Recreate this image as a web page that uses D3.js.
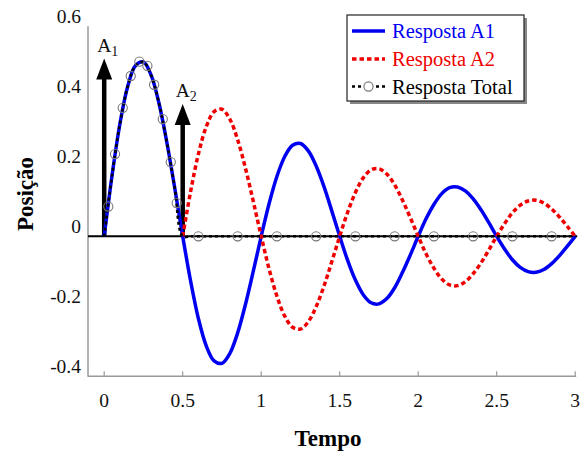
<!DOCTYPE html>
<html>
<head>
<meta charset="utf-8">
<script src="https://cdn.jsdelivr.net/npm/d3@7"></script>
<style>
  html, body { margin: 0; padding: 0; background: #fff; }
  svg { display: block; }
  text { font-family: "Liberation Serif", "Times New Roman", serif; }
</style>
</head>
<body>
<svg id="chart" width="581" height="453"></svg>
<script>
// Time grid (s)
const time = [0,0.05,0.1,0.15,0.2,0.25,0.3,0.35,0.4,0.45,0.5,0.55,0.6,0.65,0.7,0.75,0.8,0.85,0.9,0.95,
  1,1.05,1.1,1.15,1.2,1.25,1.3,1.35,1.4,1.45,1.5,1.55,1.6,1.65,1.7,1.75,1.8,1.85,1.9,1.95,
  2,2.05,2.1,2.15,2.2,2.25,2.3,2.35,2.4,2.45,2.5,2.55,2.6,2.65,2.7,2.75,2.8,2.85,2.9,2.95,3];

// Response to impulse A1
const respA1 = [0,0.174,0.321,0.429,0.488,0.498,0.459,0.378,0.266,0.136,0,-0.127,-0.235,-0.313,-0.356,-0.363,-0.335,-0.276,-0.194,-0.099,
  0,0.093,0.171,0.228,0.260,0.265,0.244,0.201,0.142,0.072,0,-0.068,-0.125,-0.167,-0.190,-0.193,-0.178,-0.147,-0.103,-0.053,
  0,0.050,0.091,0.122,0.139,0.141,0.130,0.107,0.076,0.039,0,-0.036,-0.067,-0.089,-0.101,-0.103,-0.095,-0.078,-0.055,-0.028,0];

// Response to impulse A2 (starts at t = 0.5)
const respA2 = [null,null,null,null,null,null,null,null,null,null,0,0.127,0.235,0.313,0.356,0.363,0.335,0.276,0.194,0.099,
  0,-0.093,-0.171,-0.228,-0.260,-0.265,-0.244,-0.201,-0.142,-0.072,0,0.068,0.125,0.167,0.190,0.193,0.178,0.147,0.103,0.053,
  0,-0.050,-0.091,-0.122,-0.139,-0.141,-0.130,-0.107,-0.076,-0.039,0,0.036,0.067,0.089,0.101,0.103,0.095,0.078,0.055,0.028,0];

// Total response (sum of both)
const respTotal = [0,0.174,0.321,0.429,0.488,0.498,0.459,0.378,0.266,0.136,0,0,0,0,0,0,0,0,0,0,
  0,0,0,0,0,0,0,0,0,0,0,0,0,0,0,0,0,0,0,0,
  0,0,0,0,0,0,0,0,0,0,0,0,0,0,0,0,0,0,0,0,0];

// Marker samples along the total response
const markerTime = [0.026,0.069,0.118,0.169,0.224,0.275,0.318,0.373,0.424,0.462,0.6,0.85,1.1,1.35,1.6,1.85,2.1,2.35,2.6,2.85];
const markerValue = [0.085,0.235,0.367,0.458,0.499,0.487,0.433,0.335,0.212,0.095,0,0,0,0,0,0,0,0,0,0];

// Impulses
const impulseName = ["1", "2"];
const impulseTime = [0, 0.5];
const impulseAmp = [0.508, 0.378];

// Axis ticks
const xTicks = [0, 0.5, 1, 1.5, 2, 2.5, 3];
const xTickLabels = ["0", "0.5", "1", "1.5", "2", "2.5", "3"];
const yTicks = [0.6, 0.4, 0.2, 0, -0.2, -0.4];
const yTickLabels = ["0.6", "0.4", "0.2", "0", "-0.2", "-0.4"];

const legendLabels = ["Resposta A1", "Resposta A2", "Resposta Total"];

const BLUE = "#0000f0", RED = "#ee0000";

const svg = d3.select("#chart");
const x = d3.scaleLinear().domain([0, 3]).range([104.2, 575.2]);
const y = d3.scaleLinear().domain([-0.4, 0.6]).range([376.3, 26.3]);
const axisLeftX = 88;

// Axes (left and bottom, grey)
svg.append("line").attr("x1", axisLeftX).attr("x2", axisLeftX)
  .attr("y1", y(0.6)).attr("y2", y(-0.4) + 0.5)
  .attr("stroke", "#999").attr("stroke-width", 1.5);
svg.append("line").attr("x1", axisLeftX).attr("x2", x(3) + 1)
  .attr("y1", y(-0.4)).attr("y2", y(-0.4))
  .attr("stroke", "#999").attr("stroke-width", 1.5);
svg.selectAll(".xtick").data(xTicks).join("line")
  .attr("x1", d => x(d)).attr("x2", d => x(d))
  .attr("y1", y(-0.4)).attr("y2", y(-0.4) - 5)
  .attr("stroke", "#999").attr("stroke-width", 1.2);
svg.selectAll(".xlabel").data(xTicks).join("text")
  .attr("x", d => x(d)).attr("y", 400)
  .attr("text-anchor", "middle").attr("dominant-baseline", "central")
  .attr("font-size", 19.5).attr("fill", "#111")
  .text((d, i) => xTickLabels[i]);
svg.selectAll(".ylabel").data(yTicks).join("text")
  .attr("x", 81).attr("y", d => y(d) - 10)
  .attr("text-anchor", "end").attr("dominant-baseline", "central")
  .attr("font-size", 19.5).attr("fill", "#111")
  .text((d, i) => yTickLabels[i]);

// Axis titles
svg.append("text").attr("x", 328).attr("y", 438)
  .attr("text-anchor", "middle").attr("dominant-baseline", "central")
  .attr("font-size", 23).attr("font-weight", "bold").text("Tempo");
svg.append("text").attr("transform", "translate(25,194) rotate(-90)")
  .attr("text-anchor", "middle").attr("dominant-baseline", "central")
  .attr("font-size", 23).attr("font-weight", "bold").text("Posição");

// Zero reference line
svg.append("line").attr("x1", axisLeftX).attr("x2", x(3) + 2)
  .attr("y1", y(0)).attr("y2", y(0))
  .attr("stroke", "#000").attr("stroke-width", 2);

// Impulse arrows
impulseTime.forEach((t, i) => {
  const tipY = y(impulseAmp[i]);
  svg.append("line").attr("x1", x(t)).attr("x2", x(t))
    .attr("y1", y(0)).attr("y2", tipY + 18)
    .attr("stroke", "#000").attr("stroke-width", 4.5);
  svg.append("path")
    .attr("d", `M${x(t)},${tipY} L${x(t) - 8},${tipY + 21} L${x(t) + 8},${tipY + 21} Z`)
    .attr("fill", "#000");
  const lbl = svg.append("text").attr("x", x(t) - 7).attr("y", tipY - 7)
    .attr("font-size", 19.5).attr("fill", "#111");
  lbl.append("tspan").text("A");
  lbl.append("tspan").attr("dy", 4).attr("font-size", 14).text(impulseName[i]);
});

const pts = (vals) => time.map((t, i) => [t, vals[i]]);
const line = d3.line()
  .defined(d => d[1] !== null)
  .x(d => x(d[0])).y(d => y(d[1]))
  .curve(d3.curveCatmullRom);

svg.append("path").attr("d", line(pts(respA1)))
  .attr("fill", "none").attr("stroke", BLUE).attr("stroke-width", 3.5);
svg.append("path").attr("d", line(pts(respA2)))
  .attr("fill", "none").attr("stroke", RED).attr("stroke-width", 3.5)
  .attr("stroke-dasharray", "4.5,3");
svg.append("path").attr("d", line(pts(respTotal)))
  .attr("fill", "none").attr("stroke", "#000").attr("stroke-width", 2.6)
  .attr("stroke-dasharray", "3,3");
svg.selectAll(".marker").data(markerTime).join("circle")
  .attr("cx", d => x(d)).attr("cy", (d, i) => y(markerValue[i]))
  .attr("r", 4.6).attr("fill", "none").attr("stroke", "#777").attr("stroke-width", 1.1);

// Legend
const lg = svg.append("g");
lg.append("rect").attr("x", 350).attr("y", 18).attr("width", 177).attr("height", 86)
  .attr("fill", "#888");
lg.append("rect").attr("x", 347).attr("y", 15).attr("width", 177).attr("height", 86)
  .attr("fill", "#fff").attr("stroke", "#222").attr("stroke-width", 1.2);
const rowY = [31, 59, 86.5];
const sampleStyle = [
  { stroke: BLUE, dash: null, w: 3.5 },
  { stroke: RED, dash: "4.5,3", w: 3.5 },
  { stroke: "#000", dash: "3,3", w: 2.6 }
];
legendLabels.forEach((label, i) => {
  lg.append("line").attr("x1", 352).attr("x2", 385)
    .attr("y1", rowY[i]).attr("y2", rowY[i])
    .attr("stroke", sampleStyle[i].stroke).attr("stroke-width", sampleStyle[i].w)
    .attr("stroke-dasharray", sampleStyle[i].dash);
  lg.append("text").attr("x", 392).attr("y", rowY[i])
    .attr("dominant-baseline", "central").attr("font-size", 20.5)
    .attr("fill", i === 0 ? BLUE : i === 1 ? RED : "#000")
    .text(label);
});
lg.append("circle").attr("cx", 368.5).attr("cy", rowY[2]).attr("r", 4.6)
  .attr("fill", "#fff").attr("stroke", "#777").attr("stroke-width", 1.1);
</script>
</body>
</html>
